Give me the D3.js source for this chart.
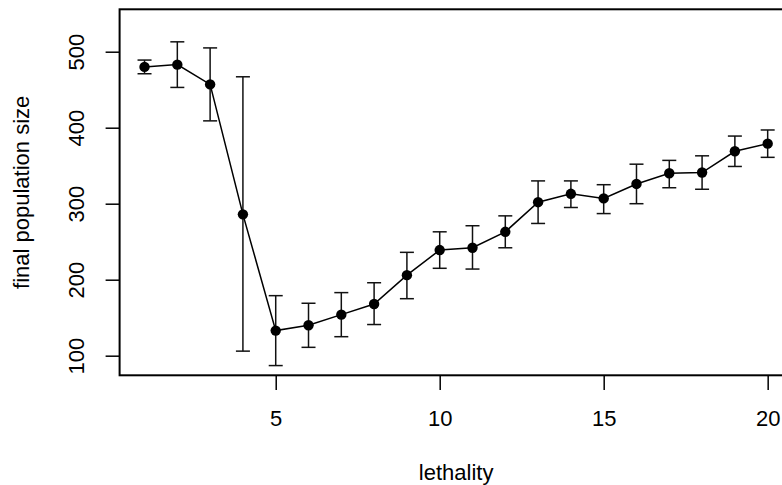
<!DOCTYPE html>
<html>
<head>
<meta charset="utf-8">
<script src="https://cdn.jsdelivr.net/npm/d3@7"></script>
<style>
html, body { margin: 0; padding: 0; background: #fff; }
svg { display: block; }
text { font-family: "Liberation Sans", Arial, Helvetica, sans-serif; fill: #000; }
</style>
</head>
<body>
<svg id="chart" width="782" height="485"></svg>
<script>
const lethality = [1,2,3,4,5,6,7,8,9,10,11,12,13,14,15,16,17,18,19,20];
const meanSize  = [480,483,457,286,133,140,154,168,206,239,242,263,302,313,307,326,340,341,369,379];
const upperSize = [489,513,505,467,179,169,183,196,236,263,271,284,330,330,325,352,357,363,389,397];
const lowerSize = [471,453,409,106,87,111,125,141,175,215,214,242,274,295,287,300,321,319,349,361];
const xTicks = [5,10,15,20];
const yTicks = [100,200,300,400,500];
const xTitle = "lethality";
const yTitle = "final population size";

(function () {
const svg = d3.select("#chart");
const pL = 119.6, pR = 792.6, pT = 9.3, pB = 375.3;
const x = d3.scaleLinear().domain([0.24, 20.76]).range([pL, pR]);
const y = d3.scaleLinear().domain([74.2, 555.8]).range([pB, pT]);

const data = lethality.map((v, i) => ({x: v, m: meanSize[i], hi: upperSize[i], lo: lowerSize[i]}));

// x axis
const xa = svg.append("g").attr("transform", `translate(0,${pB})`)
  .call(d3.axisBottom(x).tickValues(xTicks).tickSize(14.7).tickSizeOuter(0).tickPadding(20).tickFormat(d3.format("d")));
xa.select(".domain").remove();
xa.selectAll(".tick line").attr("stroke", "#000").attr("stroke-width", 1.5);
xa.selectAll(".tick text").attr("font-size", 22).attr("font-family", "Liberation Sans, Arial, sans-serif").attr("fill", "#000");

// y axis
const ya = svg.append("g").attr("transform", `translate(${pL},0)`)
  .call(d3.axisLeft(y).tickValues(yTicks).tickSize(14).tickSizeOuter(0).tickFormat(d3.format("d")));
ya.select(".domain").remove();
ya.selectAll(".tick line").attr("stroke", "#000").attr("stroke-width", 1.5);
ya.selectAll(".tick text")
  .attr("font-size", 22).attr("font-family", "Liberation Sans, Arial, sans-serif").attr("fill", "#000")
  .attr("x", null).attr("dy", null)
  .attr("text-anchor", "middle")
  .attr("transform", `translate(${84 - pL},0) rotate(-90)`);

// box
svg.append("rect").attr("x", pL).attr("y", pT).attr("width", pR - pL).attr("height", pB - pT)
  .attr("fill", "none").attr("stroke", "#000").attr("stroke-width", 2);

// error bars
const eb = svg.append("g").attr("stroke", "#111").attr("stroke-width", 1.5).attr("fill", "none");
const cap = 7;
data.forEach(d => {
  eb.append("line").attr("x1", x(d.x)).attr("x2", x(d.x)).attr("y1", y(d.lo)).attr("y2", y(d.hi));
  eb.append("line").attr("x1", x(d.x) - cap).attr("x2", x(d.x) + cap).attr("y1", y(d.lo)).attr("y2", y(d.lo));
  eb.append("line").attr("x1", x(d.x) - cap).attr("x2", x(d.x) + cap).attr("y1", y(d.hi)).attr("y2", y(d.hi));
});

// line
svg.append("path").datum(data)
  .attr("d", d3.line().x(d => x(d.x)).y(d => y(d.m)))
  .attr("fill", "none").attr("stroke", "#000").attr("stroke-width", 1.5);

// points
svg.append("g").selectAll("circle").data(data).join("circle")
  .attr("cx", d => x(d.x)).attr("cy", d => y(d.m)).attr("r", 5.2).attr("fill", "#000");

// titles
svg.append("text").attr("x", (pL + pR) / 2).attr("y", 480)
  .attr("text-anchor", "middle").attr("font-size", 22).text(xTitle);
svg.append("text").attr("transform", `translate(29,${(pT + pB) / 2}) rotate(-90)`)
  .attr("text-anchor", "middle").attr("font-size", 22).text(yTitle);
})();
</script>
</body>
</html>
